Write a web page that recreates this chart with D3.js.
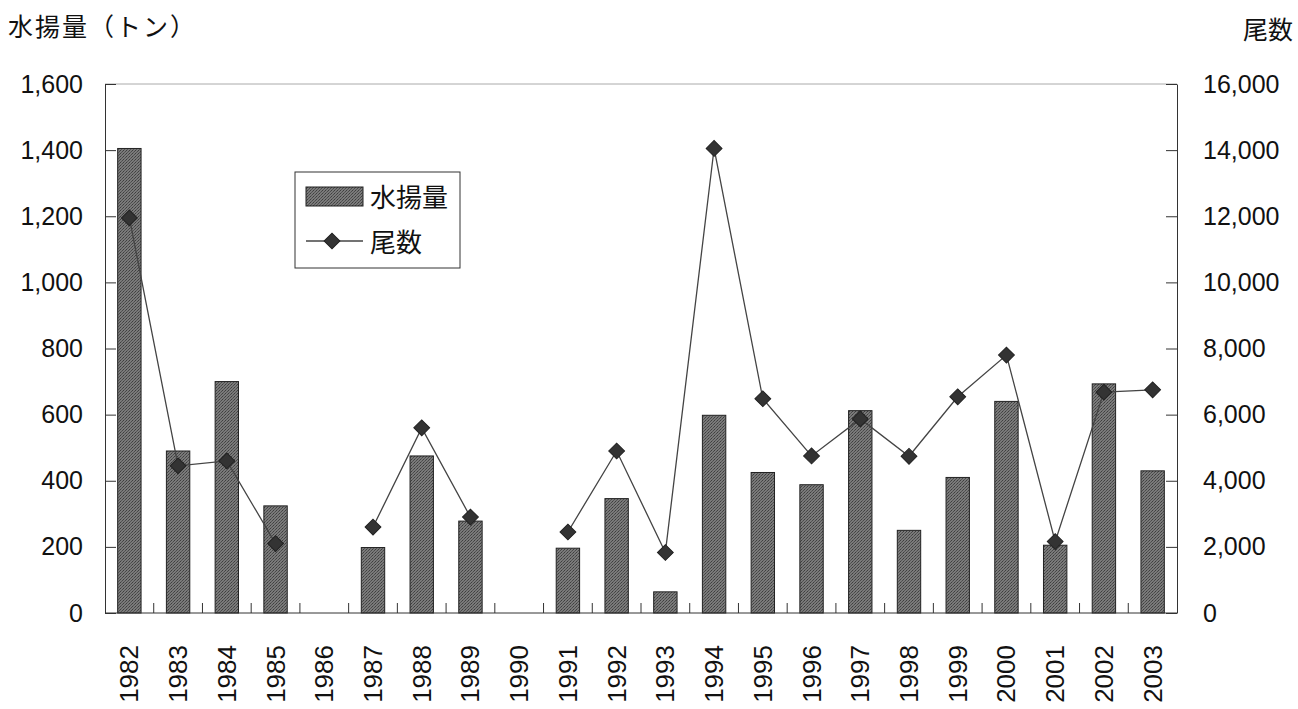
<!DOCTYPE html>
<html>
<head>
<meta charset="utf-8">
<script src="https://cdn.jsdelivr.net/npm/d3@7"></script>
<style>
  body { margin: 0; background: #fff; }
  text { font-family: "Liberation Sans", Arial, "Noto Sans CJK JP", sans-serif; fill: #111; }
</style>
</head>
<body>
<div id="chart"></div>
<script>
// data
var years = ["1982","1983","1984","1985","1986","1987","1988","1989","1990","1991","1992",
             "1993","1994","1995","1996","1997","1998","1999","2000","2001","2002","2003"];
// 水揚量 (tons), null = no bar
var catchTons = [1405, 490, 700, 324, null, 198, 475, 278, null, 196, 346,
                 64, 598, 425, 388, 612, 250, 410, 640, 205, 693, 430];
// 尾数 (count), null = no point
var fishCount = [11950, 4450, 4600, 2100, null, 2600, 5600, 2900, null, 2450, 4900,
                 1830, 14050, 6480, 4750, 5870, 4740, 6540, 7800, 2160, 6680, 6750];
var leftTicks = [0, 200, 400, 600, 800, 1000, 1200, 1400, 1600];
var rightTicks = [0, 2000, 4000, 6000, 8000, 10000, 12000, 14000, 16000];

var svgWidth = 1298, svgHeight = 709;
var margin = { top: 84, right: 121, bottom: 96, left: 105 };
var chartWidth = svgWidth - margin.left - margin.right;
var chartHeight = svgHeight - margin.top - margin.bottom;

var svg = d3.select("#chart").append("svg")
    .attr("width", svgWidth)
    .attr("height", svgHeight);

// stippled gray fill like the printed bars
var pat = svg.append("defs").append("pattern")
    .attr("id", "stipple")
    .attr("width", 3).attr("height", 3)
    .attr("patternUnits", "userSpaceOnUse");
pat.append("rect").attr("width", 3).attr("height", 3).attr("fill", "#7a7a7a");
pat.append("rect").attr("width", 1).attr("height", 1).attr("fill", "#3e3e3e");
pat.append("rect").attr("x", 2).attr("y", 1).attr("width", 1).attr("height", 1).attr("fill", "#4a4a4a");
pat.append("rect").attr("x", 1).attr("y", 2).attr("width", 1).attr("height", 1).attr("fill", "#555");

var g = svg.append("g")
    .attr("transform", `translate(${margin.left}, ${margin.top})`);

var x = d3.scaleBand().domain(years).range([0, chartWidth]).paddingInner(0.52).paddingOuter(0.26);
var yLeft = d3.scaleLinear().domain([0, 1600]).range([chartHeight, 0]);
var yRight = d3.scaleLinear().domain([0, 16000]).range([chartHeight, 0]);
var step = x.step();

// top border (light gray)
g.append("line")
    .attr("x1", 0).attr("x2", chartWidth)
    .attr("y1", 0).attr("y2", 0)
    .attr("stroke", "#aaa").attr("stroke-width", 1);

// bars
var barData = years.map((y, i) => ({ year: y, v: catchTons[i] })).filter(d => d.v != null);
g.selectAll("rect.bar")
    .data(barData)
    .enter().append("rect")
    .attr("class", "bar")
    .attr("x", d => x(d.year))
    .attr("y", d => yLeft(d.v))
    .attr("width", x.bandwidth())
    .attr("height", d => chartHeight - yLeft(d.v))
    .attr("fill", "url(#stipple)")
    .attr("stroke", "#222")
    .attr("stroke-width", 1);

// left axis
var leftAxis = d3.axisLeft(yLeft).tickValues(leftTicks).tickSizeInner(-11).tickSizeOuter(0)
    .tickPadding(22).tickFormat(d3.format(","));
var la = g.append("g").call(leftAxis);
la.select(".domain").attr("stroke", "#333");
la.selectAll(".tick line").attr("stroke", "#333");
la.selectAll("text").style("font-size", "25px").attr("fill", "#111");

// right axis
var rightAxis = d3.axisRight(yRight).tickValues(rightTicks).tickSizeInner(-11).tickSizeOuter(0)
    .tickPadding(26).tickFormat(d3.format(","));
var ra = g.append("g").attr("transform", `translate(${chartWidth},0)`).call(rightAxis);
ra.select(".domain").attr("stroke", "#333");
ra.selectAll(".tick line").attr("stroke", "#333");
ra.selectAll("text").style("font-size", "25px").attr("fill", "#111");

// bottom axis: ticks between categories, pointing up
var xa = g.append("g").attr("transform", `translate(0,${chartHeight})`);
xa.append("line").attr("x1", 0).attr("x2", chartWidth).attr("stroke", "#333");
xa.selectAll("line.sep")
    .data(years.slice(1))
    .enter().append("line")
    .attr("class", "sep")
    .attr("x1", d => x(d) - step * x.paddingInner() / 2)
    .attr("x2", d => x(d) - step * x.paddingInner() / 2)
    .attr("y1", 0).attr("y2", -10)
    .attr("stroke", "#333");
xa.selectAll("text.year")
    .data(years)
    .enter().append("text")
    .attr("class", "year")
    .attr("transform", d => `translate(${x(d) + x.bandwidth() / 2 + 9},32) rotate(-90)`)
    .attr("text-anchor", "end")
    .style("font-size", "26px")
    .text(d => d);

// line + diamonds (line breaks where a year is missing)
var ptAll = years.map((y, i) => ({ year: y, v: fishCount[i] }));
var line = d3.line()
    .defined(d => d.v != null)
    .x(d => x(d.year) + x.bandwidth() / 2)
    .y(d => yRight(d.v));
g.append("path")
    .datum(ptAll)
    .attr("d", line)
    .attr("fill", "none")
    .attr("stroke", "#444")
    .attr("stroke-width", 1.3);
var diamond = d3.symbol().type(d3.symbolSquare).size(125);
g.selectAll("path.pt")
    .data(ptAll.filter(d => d.v != null))
    .enter().append("path")
    .attr("class", "pt")
    .attr("d", diamond)
    .attr("transform", d => `translate(${x(d.year) + x.bandwidth() / 2},${yRight(d.v)}) rotate(45)`)
    .attr("fill", "#333")
    .attr("stroke", "#222");

// axis titles
svg.append("text").attr("x", 8).attr("y", 36).style("font-size", "25px")
    .style("letter-spacing", "2px").text("水揚量（トン）");
svg.append("text").attr("x", 1293).attr("y", 39).attr("text-anchor", "end").style("font-size", "25px").text("尾数");

// legend
var lg = svg.append("g").attr("transform", "translate(295,172)");
lg.append("rect").attr("width", 165).attr("height", 96)
    .attr("fill", "#fff").attr("stroke", "#333");
lg.append("rect").attr("x", 11).attr("y", 15).attr("width", 57).attr("height", 19)
    .attr("fill", "url(#stipple)").attr("stroke", "#222");
lg.append("text").attr("x", 75).attr("y", 35).style("font-size", "26px").text("水揚量");
lg.append("line").attr("x1", 11).attr("x2", 68).attr("y1", 69).attr("y2", 69)
    .attr("stroke", "#444").attr("stroke-width", 1.3);
lg.append("path").attr("d", diamond).attr("transform", "translate(37,69) rotate(45)")
    .attr("fill", "#333").attr("stroke", "#222");
lg.append("text").attr("x", 75).attr("y", 80).style("font-size", "26px").text("尾数");
</script>
</body>
</html>
